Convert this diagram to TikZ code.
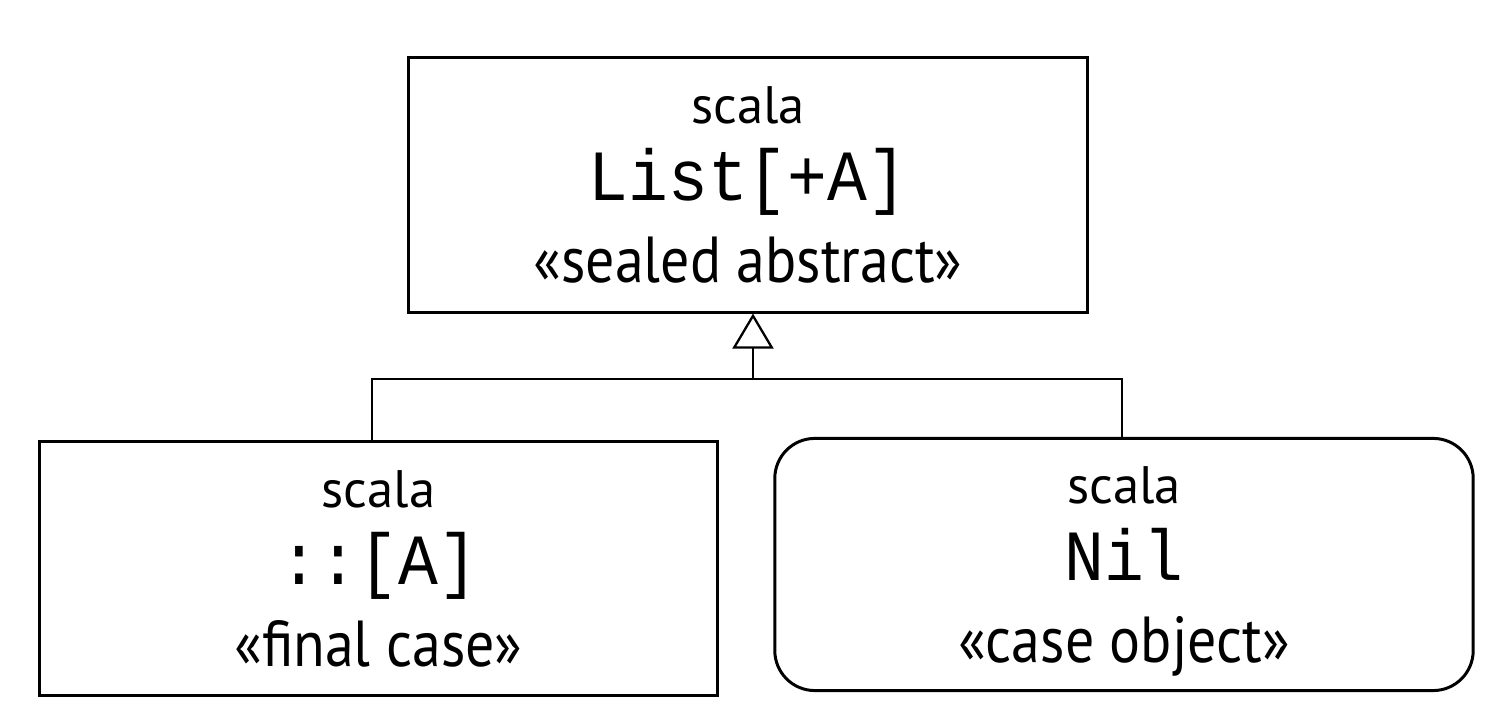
\documentclass[tikz,border=0pt]{standalone}
\usepackage{fontspec}
\setmainfont{PT Sans}
\newfontfamily\stereofont[FakeStretch=0.89]{PT Sans}
\newfontfamily\codefont[FakeStretch=0.92]{Liberation Mono}
\usetikzlibrary{arrows.meta, positioning, calc}

\newcommand{\codename}[1]{{\codefont\fontsize{20.5}{23.3}\selectfont #1}}
\newcommand{\stereo}[1]{{\stereofont\fontsize{18.5}{23.3}\selectfont «#1»}}

\begin{document}
\begin{tikzpicture}[
    x=0.01cm, y=-0.01cm,
    classbox/.style={draw, line width=0.85pt, align=center, inner sep=0pt,
                     text depth=0pt, font=\fontsize{15}{23.3}\selectfont},
    casebox/.style={classbox, rounded corners=0.4cm},
    link/.style={line width=0.65pt},
    inherit/.style={link, -{Triangle[open, length=10pt, width=11.7pt]}},
]
\useasboundingbox (0,0) rectangle (1505,707);

% Parent class
\node[classbox, minimum width=6.78cm, minimum height=2.54cm] (list) at (748,185)
    {scala\\[-1.4pt]\codename{List[+A]}\\\stereo{sealed abstract}};

% Subclasses
\node[classbox, minimum width=6.77cm, minimum height=2.53cm] (cons) at (378.5,568.5)
    {scala\\[-1.4pt]\codename{::[A]}\\\stereo{final case}};
\node[casebox, minimum width=6.98cm, minimum height=2.52cm] (nil) at (1124,564.5)
    {scala\\[-1.4pt]\codename{Nil}\\\stereo{case object}};

% Generalization
\coordinate (split) at (753,379);
\draw[link] ([xshift=-0.065cm]cons.north) |- (split);
\draw[link] ([xshift=-0.02cm]nil.north) |- (split);
\draw[inherit] (split) -- (split |- list.south);

\end{tikzpicture}
\end{document}
